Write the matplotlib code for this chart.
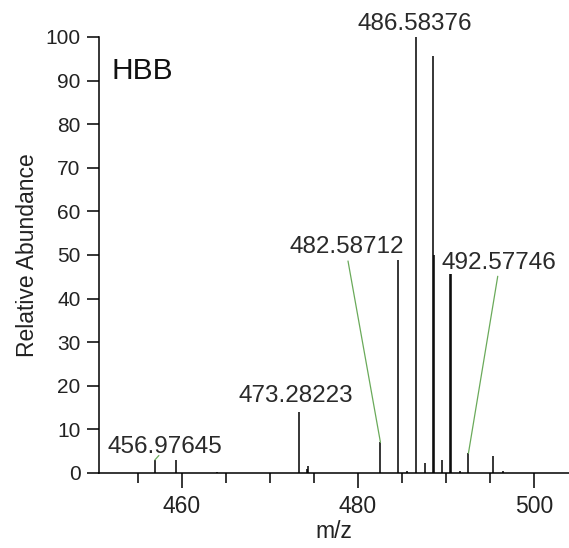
import numpy as np
import matplotlib.pyplot as plt
from matplotlib.ticker import MultipleLocator

plt.rcParams['font.family'] = ['Liberation Sans', 'DejaVu Sans']

# centroided peaks (m/z, relative abundance)
mz = [456.98, 459.40, 464.00, 473.28, 474.22, 474.32, 482.59, 484.58, 485.62,
      486.58, 487.62, 488.58, 488.70, 489.60, 490.52, 490.64, 491.62, 492.58,
      495.40, 496.50]
abundance = [3.0, 3.0, 0.3, 14.1, 1.0, 1.5, 7.0, 48.9, 0.5,
             100.0, 2.2, 95.6, 50.0, 3.0, 45.6, 45.6, 0.5, 4.5,
             4.0, 0.5]

# labelled peaks
label_mz = [456.97645, 473.28223, 482.58712, 486.58376, 492.57746]
label_ab = [3.0, 14.1, 7.0, 100.0, 4.5]

fig = plt.figure(figsize=(5.69, 5.48), dpi=100)
ax = fig.add_axes([0.1735, 0.1369, 0.8265, 0.7956])

ax.vlines(mz, 0, abundance, colors='black', linewidth=1.1)

ax.set_xlim(450.59, 504.0)
ax.set_ylim(0, 100)

ax.spines['top'].set_visible(False)
ax.spines['right'].set_visible(False)
for s in ('left', 'bottom'):
    ax.spines[s].set_linewidth(1.1)

ax.xaxis.set_major_locator(MultipleLocator(20))
ax.xaxis.set_minor_locator(MultipleLocator(5))
ax.yaxis.set_major_locator(MultipleLocator(10))
ax.tick_params(axis='x', which='major', length=11, width=1.1, pad=4.5,
               labelsize=16.5, labelcolor='#222222')
ax.tick_params(axis='x', which='minor', length=7, width=1.1)
ax.tick_params(axis='y', length=8.5, width=1.1, pad=4.5,
               labelsize=15, labelcolor='#222222')

ax.set_xlabel('m/z', fontsize=16.5, color='#222222', labelpad=2)
ax.set_ylabel('Relative Abundance', fontsize=16.5, color='#222222', labelpad=5)

ax.text(0.028, 0.955, 'HBB', transform=ax.transAxes, fontsize=21.5,
        ha='left', va='top', color='#111111')

lab_kw = dict(fontsize=17.5, color='#2a2a2a', ha='center', va='baseline')
lead = dict(arrowstyle='-', color='#6aaa5a', lw=0.9, shrinkA=0, shrinkB=0,
            relpos=(0.5, 0.1))

# labels sitting right above their peak
ax.text(473.0, label_ab[1] + 2.2, '%.5f' % label_mz[1], **lab_kw)
ax.text(486.45, label_ab[3] + 1.6, '%.5f' % label_mz[3], **lab_kw)

# labels pushed aside, joined to the peak by a leader
ax.annotate('%.5f' % label_mz[0], xy=(label_mz[0], label_ab[0]),
            xytext=(458.07, 4.65), arrowprops=dict(lead, relpos=(0.45, 0.1)),
            **lab_kw)
ax.annotate('%.5f' % label_mz[2], xy=(label_mz[2], label_ab[2]),
            xytext=(478.8, 50.4), arrowprops=lead, **lab_kw)
ax.annotate('%.5f' % label_mz[4], xy=(label_mz[4], label_ab[4]),
            xytext=(496.0, 46.9), arrowprops=lead, **lab_kw)

plt.savefig('out.png', dpi=100)
